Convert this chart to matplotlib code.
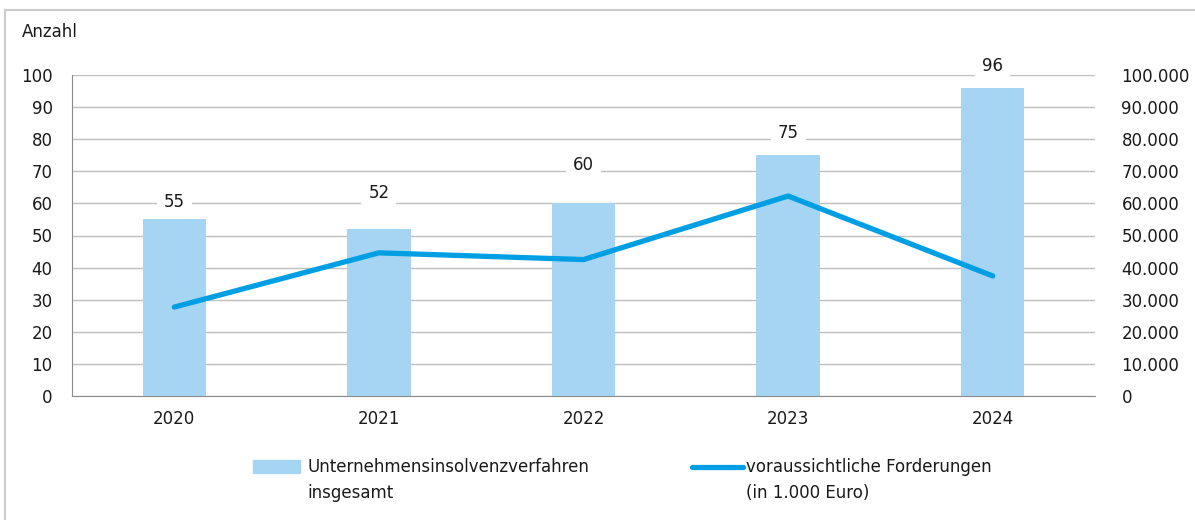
import numpy as np
import matplotlib.pyplot as plt
from matplotlib import font_manager
from matplotlib.lines import Line2D

years = ["2020", "2021", "2022", "2023", "2024"]
verfahren = [55, 52, 60, 75, 96]
forderungen = [27700, 44600, 42500, 62300, 37400]
left_ticks = list(range(0, 101, 10))
right_ticks = list(range(0, 100001, 10000))

bar_color = "#a5d5f3"
line_color = "#009fe3"
grid_color = "#bfbfbf"
text_color = "#1a1a1a"


def pick_font(names):
    for name in names:
        try:
            font_manager.findfont(font_manager.FontProperties(family=name), fallback_to_default=False)
            return name
        except ValueError:
            pass
    return 'DejaVu Sans'


main_font = pick_font(['Liberation Sans Narrow', 'DejaVu Sans Condensed', 'DejaVu Sans'])
plt.rcParams['font.family'] = [main_font, 'DejaVu Sans']
plt.rcParams['text.color'] = text_color
fs = 12

fig = plt.figure(figsize=(11.95, 5.2), dpi=100)
W, H = 1195, 520
ax = fig.add_axes([72 / W, 1 - 396 / H, (1095 - 72) / W, (396 - 75) / H])

x = np.arange(len(years))
ax.bar(x, verfahren, width=0.31, color=bar_color, zorder=2)
ax.set_xlim(-0.5, len(years) - 0.5)
ax.set_ylim(0, 100)
ax.set_yticks(left_ticks)
ax.set_xticks(x)
ax.set_xticklabels(years)
ax.yaxis.grid(True, color=grid_color, lw=1)
ax.set_axisbelow(True)
ax.tick_params(axis='both', length=0, colors=text_color, labelsize=fs)
ax.tick_params(axis='y', pad=14)
ax.tick_params(axis='x', pad=10)
for s in ['top', 'right']:
    ax.spines[s].set_visible(False)
ax.spines['left'].set_color('#8c8c8c')
ax.spines['bottom'].set_color('#8c8c8c')

# value labels sit at different heights above the bars, like in the original
label_offset = [5.4, 11.2, 12.0, 6.9, 6.8]
for xi, v, off in zip(x, verfahren, label_offset):
    ax.text(xi, v + off, str(v), ha='center', va='center', fontsize=fs, zorder=5,
            bbox=dict(facecolor='white', edgecolor='none', pad=5))

ax2 = ax.twinx()
ax2.plot(x, forderungen, color=line_color, lw=3.8, solid_capstyle='round', zorder=4)
ax2.set_ylim(0, 100000)
ax2.set_yticks(right_ticks)
ax2.set_yticklabels([f"{t:,}".replace(",", ".") for t in right_ticks])
ax2.tick_params(axis='y', length=0, pad=19, colors=text_color, labelsize=fs)
for s in ['top', 'right', 'left', 'bottom']:
    ax2.spines[s].set_visible(False)

fig.text(22 / W, 1 - 32 / H, "Anzahl", ha='left', va='center', fontsize=fs)

# legend
fig.patches.append(plt.Rectangle((253 / W, 1 - 473 / H), 47 / W, 13 / H,
                                 transform=fig.transFigure, color=bar_color, figure=fig))
fig.text(307 / W, 1 - 467 / H, "Unternehmensinsolvenzverfahren", ha='left', va='center', fontsize=fs)
fig.text(307 / W, 1 - 493 / H, "insgesamt", ha='left', va='center', fontsize=fs)
fig.lines.append(Line2D([692 / W, 743 / W], [1 - 467 / H, 1 - 467 / H], transform=fig.transFigure,
                        color=line_color, lw=3.8, solid_capstyle='round'))
fig.text(746 / W, 1 - 467 / H, "voraussichtliche Forderungen", ha='left', va='center', fontsize=fs)
fig.text(746 / W, 1 - 493 / H, "(in 1.000 Euro)", ha='left', va='center', fontsize=fs)

# frame
fig.lines.append(Line2D([5 / W, 5 / W], [0, 1 - 10 / H], transform=fig.transFigure, color='#cccccc', lw=1.5))
fig.lines.append(Line2D([5 / W, 1], [1 - 10 / H, 1 - 10 / H], transform=fig.transFigure, color='#cccccc', lw=1.5))

fig.savefig("out.png", dpi=100)
